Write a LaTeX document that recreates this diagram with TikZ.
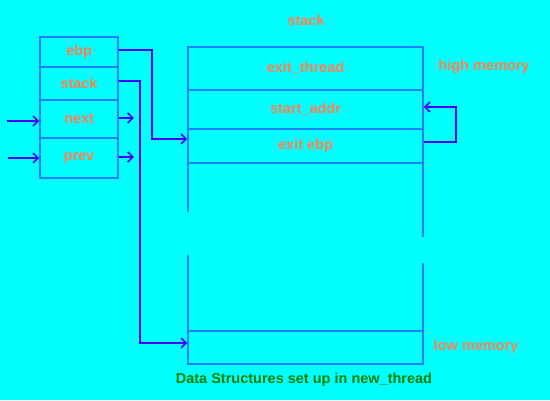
\documentclass[tikz,border=0pt]{standalone}
\usepackage{fontspec}
\setmainfont{Liberation Sans}
\usepackage{xcolor}
\usepackage{tikz}
\usetikzlibrary{arrows.meta, positioning}

\definecolor{bgcyan}{RGB}{0,255,255}
\definecolor{boxblue}{RGB}{30,128,255}
\definecolor{arrowblue}{RGB}{70,0,255}
\definecolor{labelorange}{RGB}{255,127,80}
\definecolor{captiongreen}{RGB}{0,128,0}

\tikzset{
    cell/.style={draw=boxblue, line width=1.6pt, minimum width=78pt,
        inner sep=0pt, text=labelorange, font=\fontsize{14.5}{16}\selectfont\bfseries},
    frame/.style={cell, minimum width=235pt},
    note/.style={text=labelorange, font=\fontsize{14.5}{16}\selectfont\bfseries},
    link/.style={->, draw=arrowblue, line width=1.6pt}
}

\begin{document}
\begin{tikzpicture}[x=1pt, y=-1pt, >={Straight Barb[length=5pt, width=10pt]}]
    % Nền
    \fill[bgcyan] (0,0) rectangle (550,400);
    \useasboundingbox (0,0) rectangle (550,400);

    % Cấu trúc thread bên trái
    \node[cell, minimum height=30pt] (ebp) at (79,52) {ebp};
    \node[cell, minimum height=33pt] (stk) at (79,83.5) {stack};
    \node[cell, minimum height=38pt] (next) at (79,119) {next};
    \node[cell, minimum height=40pt] (prev) at (79,158) {prev};

    % Ngăn xếp
    \node[note] (title) at (306,20) {stack};
    \node[frame, minimum height=43pt] (exitthread) at (305.5,68.5) {exit\_thread};
    \node[frame, minimum height=39pt] (startaddr) at (305.5,109.5) {start\_addr};
    \node[frame, minimum height=34pt] (exitebp) at (305.5,146) {exit ebp};
    \node[minimum width=235pt, minimum height=168pt, inner sep=0pt] (free) at (305.5,247) {};
    \node[frame, minimum height=33pt] (bottom) at (305.5,347.5) {};

    % Hai cạnh bị ngắt của vùng trống
    \draw[boxblue, line width=1.6pt] (free.north west) -- ++(0,49)
        ++(0,43) -- (free.south west);
    \draw[boxblue, line width=1.6pt] (free.north east) -- ++(0,74)
        ++(0,26) -- (free.south east);

    \node[note] (high) at (484,67) {high memory};
    \node[note] (low) at (476,347) {low memory};
    \node[text=captiongreen, font=\fontsize{14.5}{16}\selectfont\bfseries] (caption)
        at (304,380) {Data Structures set up in new\_thread};

    % Mũi tên
    \coordinate (innext) at (7,121);
    \coordinate (inprev) at (8,158);
    \draw[link] (innext) -- (innext -| next.west);
    \draw[link] (inprev) -- (inprev -| prev.west);
    \draw[link] ([yshift=1pt]next.east) -- ++(15,0);
    \draw[link] ([yshift=1pt]prev.east) -- ++(15,0);

    \draw[link] ([yshift=2pt]ebp.east) -| ++(33,89) -- ([yshift=7pt]exitebp.west);
    \draw[link] ([yshift=2.5pt]stk.east) -| ++(21,262) -- ([yshift=4.5pt]bottom.west);
    \draw[link] ([yshift=4pt]exitebp.east) -| ++(32,-35) -- ([yshift=2.5pt]startaddr.east);
\end{tikzpicture}
\end{document}
